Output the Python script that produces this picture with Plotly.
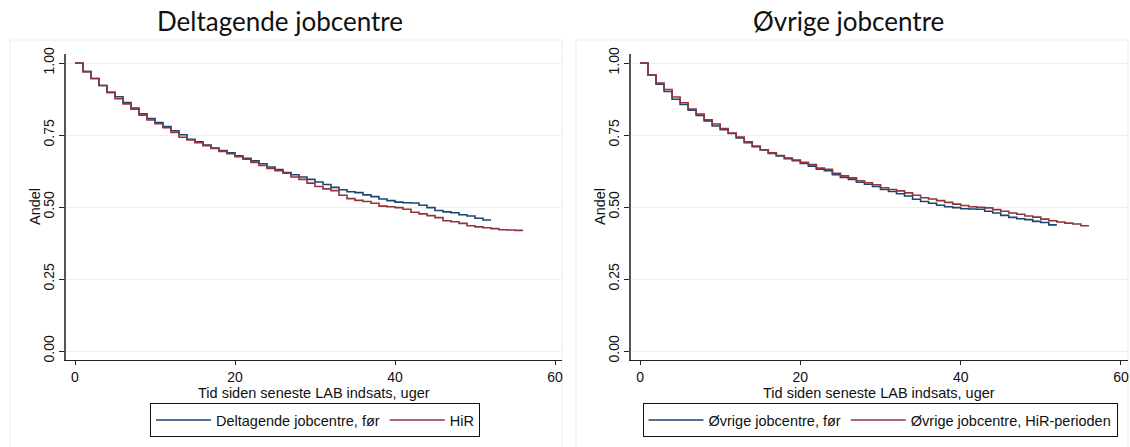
import plotly.graph_objects as go

# Weeks since last LAB activity
weeks_left_before = list(range(0, 53))
weeks_left_hir = list(range(0, 57))
weeks_right_before = list(range(0, 53))
weeks_right_hir = list(range(0, 57))

# Left panel: Deltagende jobcentre
deltagende_foer = [1.000, 0.970, 0.946, 0.922, 0.898, 0.883, 0.863, 0.844, 0.824, 0.807,
                   0.793, 0.779, 0.765, 0.751, 0.735, 0.726, 0.715, 0.705, 0.696, 0.688,
                   0.678, 0.669, 0.660, 0.650, 0.639, 0.630, 0.620, 0.612, 0.604, 0.596,
                   0.587, 0.578, 0.568, 0.560, 0.553, 0.550, 0.542, 0.536, 0.528, 0.522,
                   0.517, 0.515, 0.514, 0.506, 0.498, 0.488, 0.483, 0.480, 0.473, 0.469,
                   0.461, 0.455, 0.455]
deltagende_hir = [1.000, 0.970, 0.946, 0.922, 0.898, 0.876, 0.858, 0.840, 0.819, 0.802,
                  0.789, 0.775, 0.759, 0.742, 0.733, 0.723, 0.713, 0.703, 0.693, 0.685,
                  0.675, 0.666, 0.655, 0.644, 0.634, 0.626, 0.617, 0.604, 0.596, 0.583,
                  0.571, 0.563, 0.557, 0.541, 0.529, 0.523, 0.519, 0.513, 0.503, 0.501,
                  0.498, 0.492, 0.482, 0.476, 0.470, 0.463, 0.452, 0.449, 0.443, 0.435,
                  0.431, 0.428, 0.425, 0.421, 0.420, 0.419, 0.419]

# Right panel: Øvrige jobcentre
oevrige_foer = [1.000, 0.958, 0.926, 0.901, 0.874, 0.856, 0.836, 0.818, 0.799, 0.781,
                0.768, 0.755, 0.740, 0.723, 0.709, 0.698, 0.686, 0.677, 0.668, 0.661,
                0.651, 0.642, 0.631, 0.626, 0.612, 0.603, 0.596, 0.586, 0.579, 0.571,
                0.561, 0.554, 0.546, 0.538, 0.527, 0.519, 0.513, 0.506, 0.501, 0.498,
                0.494, 0.493, 0.492, 0.485, 0.479, 0.471, 0.464, 0.459, 0.456, 0.450,
                0.446, 0.438, 0.438]
oevrige_hir = [1.000, 0.958, 0.930, 0.908, 0.882, 0.862, 0.840, 0.823, 0.803, 0.788,
               0.772, 0.757, 0.743, 0.726, 0.712, 0.699, 0.688, 0.679, 0.670, 0.663,
               0.655, 0.647, 0.635, 0.631, 0.617, 0.608, 0.601, 0.591, 0.584, 0.577,
               0.567, 0.561, 0.556, 0.549, 0.541, 0.532, 0.528, 0.522, 0.516, 0.510,
               0.505, 0.501, 0.499, 0.497, 0.491, 0.485, 0.479, 0.475, 0.469, 0.465,
               0.458, 0.452, 0.448, 0.444, 0.441, 0.435, 0.435]

y_ticks = [0.0, 0.25, 0.5, 0.75, 1.0]
y_ticklabels = ["0.00", "0.25", "0.50", "0.75", "1.00"]
x_ticks = [0, 20, 40, 60]

titles = ["Deltagende jobcentre", "Øvrige jobcentre"]
x_title = "Tid siden seneste LAB indsats, uger"
y_title = "Andel"

BLUE = "#1a476f"
RED = "#90353b"
W, H = 1130, 447

def px_x(p):
    return p / W

def px_y(p):
    return 1 - p / H

fig = go.Figure()

fig.add_trace(go.Scatter(x=weeks_left_before, y=deltagende_foer, mode="lines", line_shape="hv",
                         line=dict(color=BLUE, width=1.6), name="Deltagende jobcentre, før",
                         xaxis="x", yaxis="y", legend="legend"))
fig.add_trace(go.Scatter(x=weeks_left_hir, y=deltagende_hir, mode="lines", line_shape="hv",
                         line=dict(color=RED, width=1.6), name="HiR",
                         xaxis="x", yaxis="y", legend="legend"))
fig.add_trace(go.Scatter(x=weeks_right_before, y=oevrige_foer, mode="lines", line_shape="hv",
                         line=dict(color=BLUE, width=1.6), name="Øvrige jobcentre, før",
                         xaxis="x2", yaxis="y2", legend="legend2"))
fig.add_trace(go.Scatter(x=weeks_right_hir, y=oevrige_hir, mode="lines", line_shape="hv",
                         line=dict(color=RED, width=1.6), name="Øvrige jobcentre, HiR-perioden",
                         xaxis="x2", yaxis="y2", legend="legend2"))

ydom = [px_y(360), px_y(54)]
FONT = "Liberation Sans, Arial, sans-serif"
tickfont = dict(family=FONT, size=14, color="#111")
legendfont = dict(family=FONT, size=14.5, color="#111")
titlefont = dict(family=FONT, size=14.5, color="#111")

xaxis_common = dict(range=[-1.125, 60.875], tickvals=x_ticks, showgrid=False, zeroline=False,
                    showline=True, linecolor="#222", linewidth=1, ticks="outside", ticklen=4,
                    tickcolor="#222", tickfont=tickfont, automargin=False)
yaxis_common = dict(range=[-0.03125, 1.03125], tickvals=y_ticks, ticktext=y_ticklabels,
                    tickangle=-90, showgrid=True, gridcolor="#e8f0f1", gridwidth=1,
                    zeroline=False, showline=True, linecolor="#555", linewidth=1.5,
                    ticks="outside", ticklen=5, tickcolor="#222", tickfont=tickfont,
                    automargin=False, domain=ydom)

legend_common = dict(orientation="h", xanchor="center", yanchor="middle",
                     bordercolor="#111", borderwidth=1, font=legendfont, bgcolor="white",
                     itemwidth=55, tracegroupgap=0)

fig.update_layout(
    width=W, height=H,
    margin=dict(l=0, r=0, t=0, b=0, autoexpand=False),
    paper_bgcolor="white", plot_bgcolor="white",
    xaxis=dict(domain=[px_x(66), px_x(562)], anchor="y", **xaxis_common),
    yaxis=dict(anchor="x", **yaxis_common),
    xaxis2=dict(domain=[px_x(631), px_x(1128)], anchor="y2", **xaxis_common),
    yaxis2=dict(anchor="x2", **yaxis_common),
    legend=dict(x=px_x(315), y=px_y(420), **legend_common),
    legend2=dict(x=px_x(880), y=px_y(420), **legend_common),
    showlegend=True,
)

# panel frames
for x0, x1 in [(10, 562), (576, 1128)]:
    fig.add_shape(type="rect", xref="paper", yref="paper",
                  x0=px_x(x0), x1=px_x(x1), y0=px_y(452), y1=px_y(40),
                  line=dict(color="#e9eff0", width=1), fillcolor="rgba(0,0,0,0)", layer="below")

# panel titles
for cx, t in [(280, titles[0]), (848, titles[1])]:
    fig.add_annotation(text=t, xref="paper", yref="paper", x=px_x(cx), y=px_y(21),
                       xanchor="center", yanchor="middle", showarrow=False,
                       font=dict(family="Lato, sans-serif", size=26, color="#111", weight="normal"))

# axis titles
for cx in [314, 879]:
    fig.add_annotation(text=x_title, xref="paper", yref="paper", x=px_x(cx), y=px_y(393),
                       xanchor="center", yanchor="middle", showarrow=False, font=titlefont)
for cx in [35, 600]:
    fig.add_annotation(text=y_title, xref="paper", yref="paper", x=px_x(cx), y=px_y(207),
                       xanchor="center", yanchor="middle", showarrow=False, font=titlefont,
                       textangle=-90)

fig.write_html("out.html", config={"displayModeBar": False},
               post_script="document.body.style.margin='0';document.body.style.padding='0';")
